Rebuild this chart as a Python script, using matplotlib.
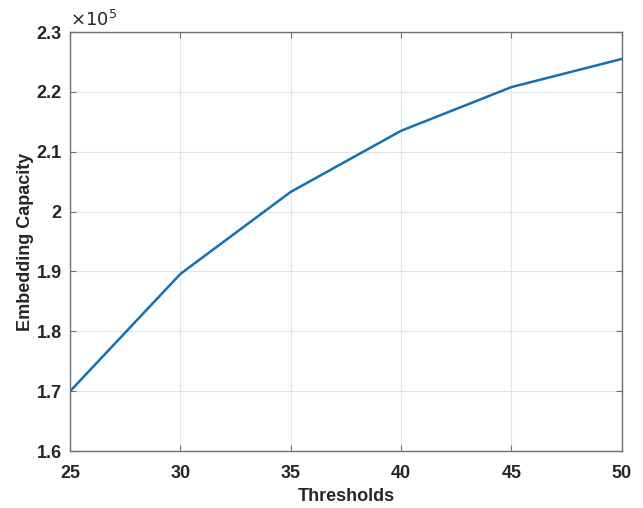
import matplotlib.pyplot as plt
from matplotlib.ticker import FuncFormatter

plt.rcParams['font.family'] = ['Liberation Sans', 'DejaVu Sans']

thresholds = [25, 30, 35, 40, 45, 50]
capacity = [170000, 189600, 203300, 213500, 220800, 225500]

fig = plt.figure(figsize=(6.43, 5.08), dpi=100)
ax = fig.add_axes([0.109, 0.112, 0.858, 0.825])

ax.plot(thresholds, capacity, color='#1570B0', linewidth=1.8)

ax.set_xlim(25, 50)
ax.set_ylim(160000, 230000)
ax.set_xticks(thresholds)
ax.set_yticks([160000 + 10000 * i for i in range(8)])
ax.yaxis.set_major_formatter(FuncFormatter(lambda v, p: '%g' % round(v / 1e5, 2)))

ax.grid(True, color='#e3e3e3', linewidth=0.8)
for s in ax.spines.values():
    s.set_color('#707070')
    s.set_linewidth(1.0)
ax.tick_params(direction='in', top=True, right=True, length=4, color='#707070',
               labelsize=13)
ax.tick_params(axis='x', pad=10)
ax.tick_params(axis='y', pad=6)
for lab in ax.get_xticklabels() + ax.get_yticklabels():
    lab.set_fontweight('bold')
    lab.set_color('#262626')

ax.set_xlabel('Thresholds', fontsize=13, fontweight='bold', color='#262626', labelpad=4)
ax.set_ylabel('Embedding Capacity', fontsize=13, fontweight='bold', color='#262626', labelpad=2)
ax.text(0.0, 1.005, r'$\times10^{5}$', transform=ax.transAxes, fontsize=13,
        color='#262626', va='bottom', ha='left')

fig.savefig('out.png', dpi=100)
plt.close(fig)
